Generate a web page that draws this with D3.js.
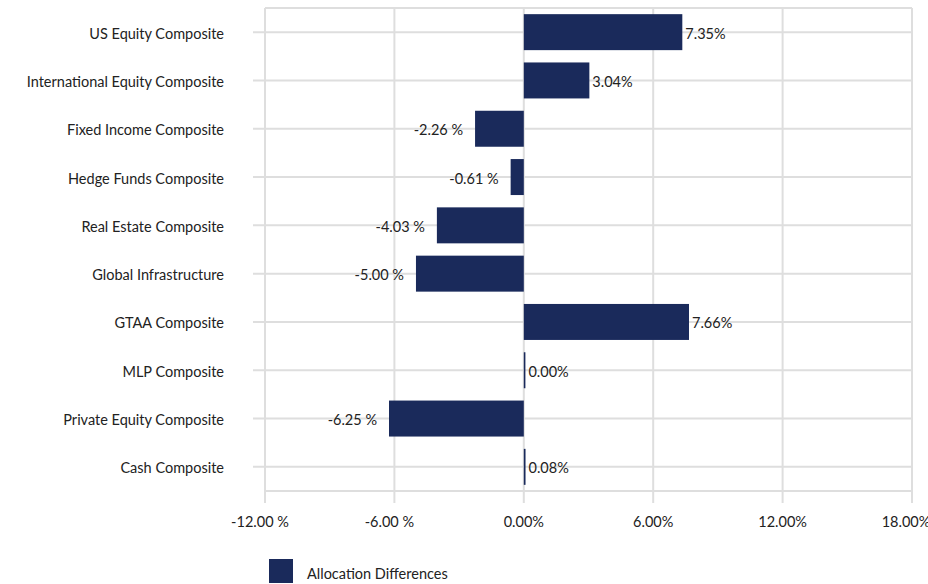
<!DOCTYPE html>
<html>
<head>
<meta charset="utf-8">
<script src="https://cdn.jsdelivr.net/npm/d3@7"></script>
<style>
  html, body { margin: 0; padding: 0; background: #fff; }
  svg { display: block; font-family: Lato, "Open Sans", sans-serif; }
</style>
</head>
<body>
<svg id="chart" width="928" height="584"></svg>
<script>
// Allocation differences by composite (percent)
const categories = [
  "US Equity Composite",
  "International Equity Composite",
  "Fixed Income Composite",
  "Hedge Funds Composite",
  "Real Estate Composite",
  "Global Infrastructure",
  "GTAA Composite",
  "MLP Composite",
  "Private Equity Composite",
  "Cash Composite"
];
const values = [7.35, 3.04, -2.26, -0.61, -4.03, -5.00, 7.66, 0.00, -6.25, 0.08];
const xTicks = [-12, -6, 0, 6, 12, 18];
const seriesName = "Allocation Differences";

const barColor = "#1a2a5b";
const gridColor = "#dedede";
const textColor = "#222";
const fontSize = 14.5;

const svg = d3.select("#chart");
const plot = { left: 265, right: 912, top: 8, bottom: 491 };

const x = d3.scaleLinear().domain([-12, 18]).range([plot.left, plot.right]);
const y = d3.scaleBand().domain(categories)
  .range([plot.top, plot.bottom])
  .paddingInner(0.255).paddingOuter(0.1275);

const pct = v => {
  const s = d3.format(".2f")(v).replace("−", "-");
  return v < 0 ? s + " %" : s + "%";
};

// horizontal gridlines through each category, extended left as ticks
svg.append("g").selectAll("line").data(categories).join("line")
  .attr("x1", plot.left - 12).attr("x2", plot.right)
  .attr("y1", d => y(d) + y.bandwidth() / 2)
  .attr("y2", d => y(d) + y.bandwidth() / 2)
  .attr("stroke", gridColor).attr("stroke-width", 2);

// vertical gridlines, extended below as ticks
svg.append("g").selectAll("line").data(xTicks).join("line")
  .attr("x1", d => x(d)).attr("x2", d => x(d))
  .attr("y1", plot.top).attr("y2", plot.bottom + 12)
  .attr("stroke", gridColor).attr("stroke-width", 2);

// frame top and bottom
svg.append("g").selectAll("line").data([plot.top, plot.bottom]).join("line")
  .attr("x1", plot.left).attr("x2", plot.right)
  .attr("y1", d => d).attr("y2", d => d)
  .attr("stroke", gridColor).attr("stroke-width", 2);

// bars (a hairline minimum keeps near-zero bars visible)
const minBar = 1.6;
svg.append("g").selectAll("rect").data(values).join("rect")
  .attr("x", d => x(Math.min(0, d)))
  .attr("width", d => Math.max(minBar, Math.abs(x(d) - x(0))))
  .attr("y", (d, i) => y(categories[i]))
  .attr("height", y.bandwidth())
  .attr("fill", barColor);

// value labels
svg.append("g").selectAll("text").data(values).join("text")
  .attr("x", d => d < 0 ? x(d) - 12 : x(0) + Math.max(minBar, x(d) - x(0)) + 3)
  .attr("y", (d, i) => y(categories[i]) + y.bandwidth() / 2 + 1)
  .attr("text-anchor", d => d < 0 ? "end" : "start")
  .attr("dominant-baseline", "central")
  .attr("font-size", fontSize).attr("fill", textColor)
  .text(d => pct(d));

// category labels
svg.append("g").selectAll("text").data(categories).join("text")
  .attr("x", 224)
  .attr("y", d => y(d) + y.bandwidth() / 2 + 1)
  .attr("text-anchor", "end")
  .attr("dominant-baseline", "central")
  .attr("font-size", fontSize).attr("fill", textColor)
  .text(d => d);

// x tick labels
svg.append("g").selectAll("text").data(xTicks).join("text")
  .attr("x", (d, i) => x(d) + (d < 0 ? -5 : (i === xTicks.length - 1 ? -6 : 0)))
  .attr("y", 521)
  .attr("text-anchor", "middle")
  .attr("dominant-baseline", "central")
  .attr("font-size", fontSize).attr("fill", textColor)
  .text(d => pct(d));

// legend
const legend = svg.append("g").attr("transform", "translate(269,559)");
legend.append("rect").attr("width", 24).attr("height", 24).attr("fill", barColor);
legend.append("text").attr("x", 38).attr("y", 14)
  .attr("dominant-baseline", "central")
  .attr("font-size", fontSize).attr("fill", textColor)
  .text(seriesName);
</script>
</body>
</html>
